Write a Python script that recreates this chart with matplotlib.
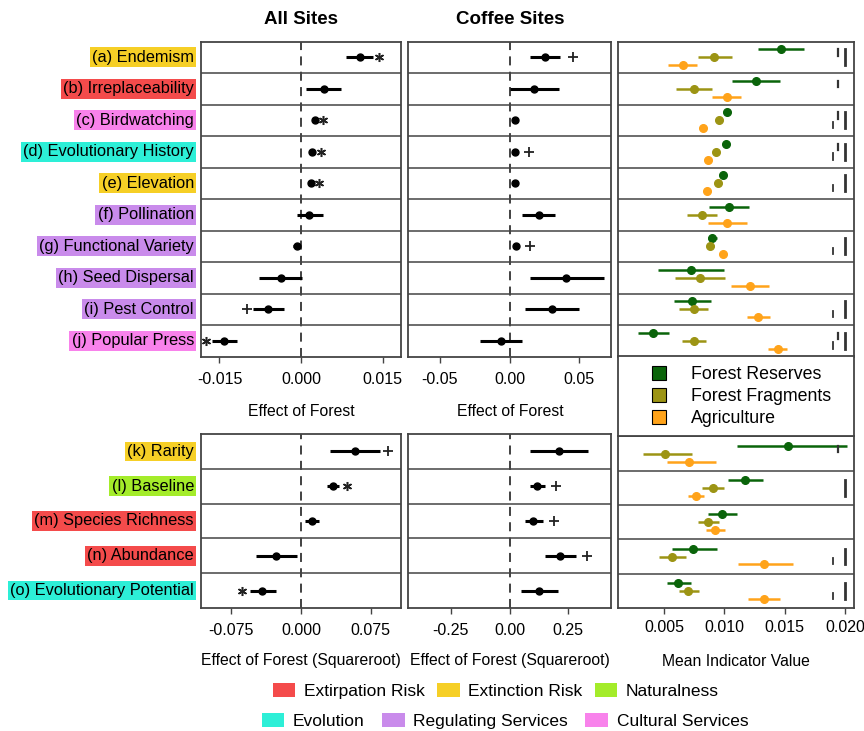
import numpy as np
import matplotlib.pyplot as plt
from matplotlib.lines import Line2D
from matplotlib.patches import Patch
from matplotlib.transforms import offset_copy

plt.rcParams['font.family'] = ['Liberation Sans', 'DejaVu Sans']

# indicator labels and their category
labels_top = ['(a) Endemism', '(b) Irreplaceability', '(c) Birdwatching', '(d) Evolutionary History',
              '(e) Elevation', '(f) Pollination', '(g) Functional Variety', '(h) Seed Dispersal',
              '(i) Pest Control', '(j) Popular Press']
labels_bot = ['(k) Rarity', '(l) Baseline', '(m) Species Richness', '(n) Abundance',
              '(o) Evolutionary Potential']
cat_top = ['Extinction Risk', 'Extirpation Risk', 'Cultural Services', 'Evolution', 'Extinction Risk',
           'Regulating Services', 'Regulating Services', 'Regulating Services', 'Regulating Services',
           'Cultural Services']
cat_bot = ['Extinction Risk', 'Naturalness', 'Extirpation Risk', 'Extirpation Risk', 'Evolution']

categories = ['Extirpation Risk', 'Extinction Risk', 'Naturalness',
              'Evolution', 'Regulating Services', 'Cultural Services']
cat_colors = ['#F44B4B', '#F6CF26', '#A4EC2A', '#2DEFD7', '#C98BEB', '#F882EB']

# effect of forest, all sites (a-j)
all_top_est = [0.0108, 0.0042, 0.0026, 0.0021, 0.0018, 0.0015, -0.0008, -0.0037, -0.0060, -0.0141]
all_top_lo = [0.0082, 0.0010, 0.0022, 0.0017, 0.0014, -0.0008, -0.0014, -0.0077, -0.0089, -0.0163]
all_top_hi = [0.0133, 0.0074, 0.0030, 0.0025, 0.0022, 0.0040, -0.0002, 0.0002, -0.0031, -0.0118]
all_top_sig = ['*', '', '*', '*', '*', '', '', '', '+', '*']

# effect of forest, coffee sites (a-j)
cof_top_est = [0.0256, 0.0179, 0.0036, 0.0036, 0.0041, 0.0208, 0.0046, 0.0407, 0.0304, -0.0060]
cof_top_lo = [0.0148, 0.0005, 0.0028, 0.0028, 0.0030, 0.0089, 0.0038, 0.0144, 0.0113, -0.0210]
cof_top_hi = [0.0364, 0.0357, 0.0044, 0.0044, 0.0052, 0.0328, 0.0054, 0.0674, 0.0495, 0.0089]
cof_top_sig = ['+', '', '', '+', '', '', '+', '', '', '']

# effect of forest (square root), all sites (k-o)
all_bot_est = [0.0575, 0.0342, 0.0122, -0.0270, -0.0414]
all_bot_lo = [0.0313, 0.0277, 0.0043, -0.0478, -0.0543]
all_bot_hi = [0.0845, 0.0407, 0.0198, -0.0047, -0.0270]
all_bot_sig = ['+', '*', '', '', '*']

# effect of forest (square root), coffee sites (k-o)
cof_bot_est = [0.209, 0.119, 0.102, 0.216, 0.127]
cof_bot_lo = [0.088, 0.088, 0.067, 0.149, 0.050]
cof_bot_hi = [0.333, 0.152, 0.142, 0.285, 0.205]
cof_bot_sig = ['', '+', '+', '+', '']

# mean indicator value per land use (a-j then k-o)
landuse = ['Forest Reserves', 'Forest Fragments', 'Agriculture']
landuse_colors = ['#0A640A', '#9C9414', '#FFA31A']
fr_mean = [0.01470, 0.01263, 0.01020, 0.01012, 0.00992, 0.01042, 0.00901, 0.00724, 0.00735, 0.00411,
           0.01526, 0.01172, 0.00978, 0.00738, 0.00619]
fr_lo = [0.01282, 0.01061, 0.00995, 0.00990, 0.00970, 0.00876, 0.00867, 0.00448, 0.00583, 0.00282,
         0.01103, 0.01033, 0.00862, 0.00569, 0.00522]
fr_hi = [0.01661, 0.01462, 0.01045, 0.01035, 0.01015, 0.01207, 0.00942, 0.01000, 0.00890, 0.00541,
         0.02015, 0.01318, 0.01108, 0.00937, 0.00724]
ff_mean = [0.00917, 0.00749, 0.00954, 0.00929, 0.00945, 0.00815, 0.00884, 0.00799, 0.00749, 0.00749,
           0.00508, 0.00904, 0.00867, 0.00564, 0.00701]
ff_lo = [0.00779, 0.00597, 0.00932, 0.00907, 0.00923, 0.00688, 0.00857, 0.00591, 0.00627, 0.00647,
         0.00328, 0.00818, 0.00779, 0.00459, 0.00627]
ff_hi = [0.01066, 0.00896, 0.00976, 0.00951, 0.00967, 0.00937, 0.00915, 0.01006, 0.00867, 0.00848,
         0.00730, 0.01000, 0.00959, 0.00682, 0.00790]
ag_mean = [0.00655, 0.01020, 0.00826, 0.00867, 0.00854, 0.01025, 0.00992, 0.01213, 0.01282, 0.01443,
           0.00710, 0.00763, 0.00923, 0.01329, 0.01329]
ag_lo = [0.00536, 0.00901, 0.00806, 0.00847, 0.00834, 0.00867, 0.00972, 0.01053, 0.01186, 0.01365,
         0.00522, 0.00697, 0.00848, 0.01116, 0.01199]
ag_hi = [0.00771, 0.01136, 0.00846, 0.00887, 0.00874, 0.01186, 0.01012, 0.01373, 0.01379, 0.01522,
         0.00931, 0.00832, 0.01006, 0.01567, 0.01462]
# significant pairwise differences
sig_ff_ag = [0, 0, 1, 1, 1, 0, 1, 0, 1, 1, 0, 0, 0, 1, 1]
sig_fr_ff = [1, 1, 1, 1, 0, 0, 0, 0, 0, 1, 1, 0, 0, 0, 0]
sig_fr_ag = [1, 0, 1, 1, 1, 0, 1, 0, 1, 1, 0, 1, 0, 1, 1]

W, H = 864, 731
fig = plt.figure(figsize=(W / 100, H / 100), dpi=100)


def rect(x0, y0, x1, y1):
    return [x0 / W, 1 - y1 / H, (x1 - x0) / W, (y1 - y0) / H]


frame_col = '#444444'


def style_frame(ax, n):
    for s in ax.spines.values():
        s.set_color(frame_col)
        s.set_linewidth(1.3)
    for i in range(n - 1):
        ax.axhline(i + 0.5, color=frame_col, lw=1.1)
    ax.set_ylim(n - 0.5, -0.5)
    ax.set_yticks([])
    ax.tick_params(axis='x', direction='out', length=4, width=1, color=frame_col,
                   labelsize=11.5, pad=7)


def effect_panel(r, est, lo, hi, sig, lim, ticks, ticklabels, pad):
    ax = fig.add_axes(r)
    n = len(est)
    y = np.arange(n)
    ax.axvline(0, color='#333333', lw=1.3, ls=(0, (5, 3.5)))
    ax.hlines(y, lo, hi, color='black', lw=2.2)
    ax.plot(est, y, 'o', color='black', ms=5)
    for i in range(n):
        if sig[i] == '':
            continue
        if est[i] > 0:
            tr = offset_copy(ax.transData, fig=fig, x=pad, units='dots')
            xm = hi[i]
        else:
            tr = offset_copy(ax.transData, fig=fig, x=-pad, units='dots')
            xm = lo[i]
        if sig[i] == '*':
            ax.plot(xm, i, marker=(6, 2, 0), color='#222222', ms=6.5, mew=1.1, transform=tr)
        else:
            ax.plot(xm, i, marker='+', color='#222222', ms=7, mew=1.3, transform=tr)
    ax.set_xlim(-lim, lim)
    ax.set_xticks(ticks)
    ax.set_xticklabels(ticklabels)
    style_frame(ax, n)
    return ax


def add_labels(ax, labels, cats):
    for i, (lab, c) in enumerate(zip(labels, cats)):
        col = cat_colors[categories.index(c)]
        ax.annotate(lab, xy=(0, i), xycoords=('axes fraction', 'data'),
                    xytext=(-7 * 0.72, 0), textcoords='offset points',
                    ha='right', va='center', fontsize=11.8,
                    bbox=dict(boxstyle='square,pad=0.14', fc=col, ec='none'))


ax1 = effect_panel(rect(201, 41.5, 401, 356.5), all_top_est, all_top_lo, all_top_hi, all_top_sig,
                   0.0184, [-0.015, 0, 0.015], ['-0.015', '0.000', '0.015'], 6)
ax2 = effect_panel(rect(408, 41.5, 611, 356.5), cof_top_est, cof_top_lo, cof_top_hi, cof_top_sig,
                   0.0727, [-0.05, 0, 0.05], ['-0.05', '0.00', '0.05'], 13)
ax4 = effect_panel(rect(201, 434, 401, 608), all_bot_est, all_bot_lo, all_bot_hi, all_bot_sig,
                   0.1074, [-0.075, 0, 0.075], ['-0.075', '0.000', '0.075'], 8)
ax5 = effect_panel(rect(408, 434, 611, 608), cof_bot_est, cof_bot_lo, cof_bot_hi, cof_bot_sig,
                   0.432, [-0.25, 0, 0.25], ['-0.25', '0.00', '0.25'], 11)
add_labels(ax1, labels_top, cat_top)
add_labels(ax4, labels_bot, cat_bot)


def value_panel(r, rows, off):
    ax = fig.add_axes(r)
    n = len(rows)
    series = [(fr_mean, fr_lo, fr_hi), (ff_mean, ff_lo, ff_hi), (ag_mean, ag_lo, ag_hi)]
    for k, (m, lo, hi) in enumerate(series):
        y = np.arange(n) + (k - 1) * off
        ax.hlines(y, [lo[j] for j in rows], [hi[j] for j in rows], color=landuse_colors[k], lw=1.8)
        ax.plot([m[j] for j in rows], y, 'o', color=landuse_colors[k], ms=5.5)
    for i, j in enumerate(rows):
        if sig_ff_ag[j]:
            ax.plot([0.0190, 0.0190], [i + 0.05, i + off], color='#333333', lw=1.3)
        if sig_fr_ff[j]:
            ax.plot([0.01943, 0.01943], [i - off, i - 0.05], color='#333333', lw=1.6)
        if sig_fr_ag[j]:
            ax.plot([0.0200, 0.0200], [i - off, i + off], color='#333333', lw=2.0)
    ax.set_xlim(0.00119, 0.02075)
    style_frame(ax, n)
    return ax


ax3 = value_panel(rect(618, 41.5, 854, 356.5), list(range(10)), 0.26)
ax3.set_xticks([])
ax6 = value_panel(rect(618, 436.5, 854, 608), list(range(10, 15)), 0.23)
ax6.set_xticks([0.005, 0.010, 0.015, 0.020])
ax6.set_xticklabels(['0.005', '0.010', '0.015', '0.020'])
ax6.tick_params(axis='x', pad=5)

# land use legend box
axl = fig.add_axes(rect(618, 356.5, 854, 436.5))
axl.set_xticks([])
axl.set_yticks([])
for s in axl.spines.values():
    s.set_color(frame_col)
    s.set_linewidth(1.3)
lu_handles = [Line2D([], [], marker='s', ls='', ms=9.5, mfc=c, mec='black', mew=0.8)
              for c in landuse_colors]
axl.legend(lu_handles, landuse, loc='center', bbox_to_anchor=(0.5, 0.5), frameon=False,
           fontsize=12.8, labelspacing=0.28, handletextpad=0.8, borderpad=0)

# titles and axis labels
fig.text(301 / W, 1 - 20 / H, 'All Sites', ha='center', va='center', fontsize=13.5, fontweight='bold')
fig.text(510 / W, 1 - 20 / H, 'Coffee Sites', ha='center', va='center', fontsize=13.5, fontweight='bold')
fig.text(301 / W, 1 - 411 / H, 'Effect of Forest', ha='center', va='center', fontsize=11.3)
fig.text(510 / W, 1 - 411 / H, 'Effect of Forest', ha='center', va='center', fontsize=11.3)
fig.text(301 / W, 1 - 661 / H, 'Effect of Forest (Squareroot)', ha='center', va='center', fontsize=11.3)
fig.text(510 / W, 1 - 661 / H, 'Effect of Forest (Squareroot)', ha='center', va='center', fontsize=11.3)
fig.text(736 / W, 1 - 661 / H, 'Mean Indicator Value', ha='center', va='center', fontsize=11.3)

# category legend at the bottom
cat_handles = [Patch(fc=c, ec='none') for c in cat_colors]
fig.legend(cat_handles[:3], categories[:3], loc='center', bbox_to_anchor=(496 / W, 1 - 691 / H),
           ncol=3, frameon=False, fontsize=12.5, handlelength=1.3, handleheight=0.9,
           handletextpad=0.5, columnspacing=0.7, borderpad=0)
fig.legend(cat_handles[3:], categories[3:], loc='center', bbox_to_anchor=(505 / W, 1 - 721 / H),
           ncol=3, frameon=False, fontsize=12.5, handlelength=1.3, handleheight=0.9,
           handletextpad=0.5, columnspacing=1.0, borderpad=0)

fig.savefig('out.png', dpi=100)
